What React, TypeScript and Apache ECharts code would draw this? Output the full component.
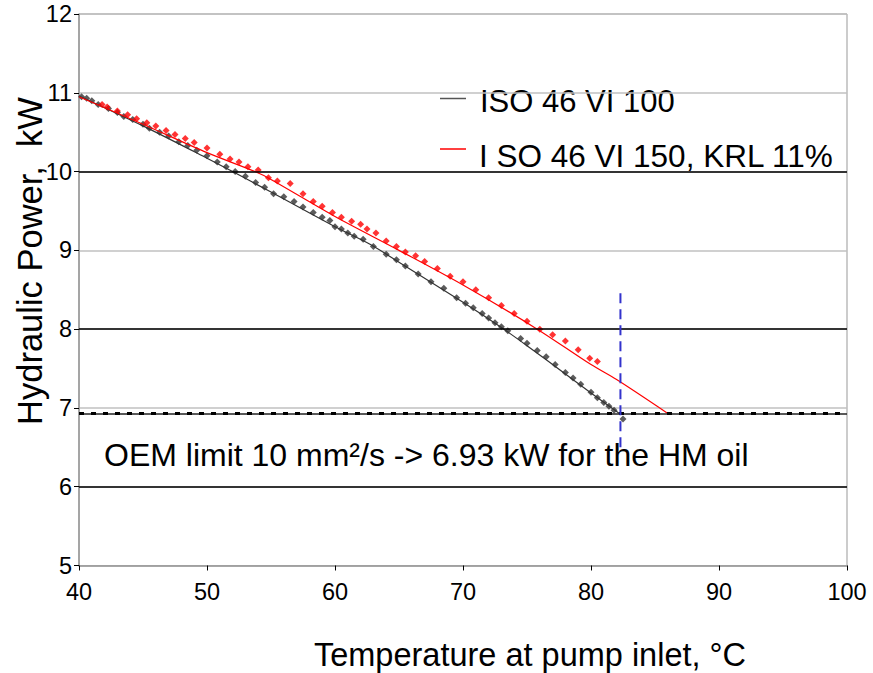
import React, { useEffect, useRef } from "react";
import * as echarts from "echarts";

const xTicks = [40, 50, 60, 70, 80, 90, 100];
const yTicks = [5, 6, 7, 8, 9, 10, 11, 12];

const seriesNames = ["ISO 46 VI 100", "I SO 46 VI 150, KRL 11%"];

const blackPoints: [number, number][] = [
  [40.2, 10.95], [40.6, 10.93], [41.0, 10.9], [41.5, 10.85], [42.3, 10.8], [43.0, 10.75],
  [43.5, 10.7], [44.2, 10.66], [45.0, 10.6], [45.5, 10.55], [46.3, 10.5], [47.0, 10.45],
  [47.8, 10.38], [48.5, 10.33], [49.2, 10.27], [50.0, 10.2], [50.8, 10.12], [51.5, 10.06],
  [52.2, 10.0], [53.0, 9.94], [53.8, 9.86], [54.5, 9.8], [55.2, 9.72], [56.0, 9.68],
  [56.8, 9.62], [57.5, 9.55], [58.3, 9.48], [59.0, 9.42], [59.6, 9.38], [60.0, 9.3],
  [60.5, 9.27], [61.0, 9.22], [61.5, 9.18], [62.2, 9.14], [63.0, 9.05], [64.0, 8.95],
  [64.8, 8.88], [65.5, 8.8], [66.5, 8.7], [67.5, 8.6], [68.5, 8.52], [69.5, 8.4],
  [70.2, 8.33], [70.8, 8.27], [71.5, 8.2], [72.0, 8.14], [72.5, 8.08], [73.0, 8.03],
  [73.5, 7.98], [74.5, 7.88], [75.0, 7.82], [75.8, 7.73], [76.5, 7.65], [77.2, 7.55],
  [78.0, 7.45], [78.6, 7.38], [79.2, 7.3], [80.0, 7.2], [80.5, 7.13], [81.0, 7.07],
  [81.4, 7.02], [81.8, 6.97], [82.5, 6.86],
];

const redPoints: [number, number][] = [
  [41.8, 10.85], [42.2, 10.82], [43.0, 10.77], [43.8, 10.72], [44.5, 10.67], [45.3, 10.62],
  [46.0, 10.58], [46.8, 10.52], [47.5, 10.47], [48.3, 10.42], [49.0, 10.37], [50.0, 10.3],
  [51.0, 10.22], [51.8, 10.16], [52.5, 10.12], [53.2, 10.06], [54.0, 10.02], [54.8, 9.92],
  [55.5, 9.88], [56.5, 9.85], [57.5, 9.72], [58.3, 9.62], [59.0, 9.56], [59.8, 9.48],
  [60.5, 9.42], [61.3, 9.37], [62.0, 9.33], [62.5, 9.27], [63.2, 9.22], [64.0, 9.12],
  [64.8, 9.05], [65.5, 8.98], [66.3, 8.93], [67.0, 8.86], [68.0, 8.77], [69.0, 8.67],
  [70.0, 8.6], [71.0, 8.5], [72.0, 8.4], [73.0, 8.3], [74.0, 8.2], [75.0, 8.1],
  [76.0, 8.0], [77.0, 7.93], [78.0, 7.85], [79.0, 7.74], [79.9, 7.63], [80.5, 7.59],
];

const blackTrend: [number, number][] = [
  [40, 10.96], [45, 10.58], [50, 10.17], [52, 10.0], [55, 9.74], [60, 9.3], [62.7, 9.08],
  [65, 8.85], [70, 8.34], [73, 8.02], [75, 7.79], [78, 7.43], [80, 7.19], [82.3, 6.92],
];

const redTrend: [number, number][] = [
  [40, 10.95], [45, 10.6], [50, 10.24], [53.75, 10.0], [55, 9.9], [60, 9.43], [65, 9.0],
  [70, 8.56], [75.8, 8.0], [80, 7.55], [82, 7.36], [86, 6.93],
];

const oemLimit = 6.93;
const limitTemp = 82.3;
const limitLineY: [number, number] = [6.5, 8.47];
const blackGridValues = [6, 8, 10];

const annotation = "OEM limit 10 mm²/s -> 6.93 kW for the HM oil";
const xTitle = "Temperature at pump inlet, °C";
const yTitle = "Hydraulic Power,  kW";

const FONT = "'Liberation Sans', Arial, sans-serif";

export default function App() {
  const ref = useRef<HTMLDivElement>(null);
  useEffect(() => {
    document.body.style.margin = "0";
    if (!ref.current) return;
    const chart = echarts.init(ref.current, undefined, { renderer: "svg" });
    chart.setOption({
      animation: false,
      textStyle: { fontFamily: FONT },
      grid: {
        left: 79,
        right: 26,
        top: 14,
        bottom: 107.5,
        show: true,
        borderColor: "#999",
        borderWidth: 1,
      },
      xAxis: {
        type: "value",
        min: xTicks[0],
        max: xTicks[xTicks.length - 1],
        interval: 10,
        axisLine: { show: true, lineStyle: { color: "#999", width: 1.5 } },
        axisTick: { show: true, length: 5, inside: false, lineStyle: { color: "#000" } },
        axisLabel: { fontSize: 23.5, color: "#000", margin: 14, fontFamily: FONT },
        splitLine: { show: false },
      },
      yAxis: {
        type: "value",
        min: yTicks[0],
        max: yTicks[yTicks.length - 1],
        interval: 1,
        axisLine: { show: true, lineStyle: { color: "#999", width: 1.5 } },
        axisTick: { show: true, length: 5, lineStyle: { color: "#000" } },
        axisLabel: { fontSize: 23.5, color: "#000", margin: 7, fontFamily: FONT },
        splitLine: { show: true, lineStyle: { color: "#c0c0c0", width: 1.5 } },
      },
      graphic: [
        {
          type: "text",
          x: 30,
          y: 261,
          rotation: Math.PI / 2,
          style: {
            text: yTitle,
            font: `34.5px ${FONT}`,
            fill: "#000",
            textAlign: "center",
            textVerticalAlign: "middle",
          },
        },
        {
          type: "text",
          x: 530,
          y: 655,
          style: {
            text: xTitle,
            font: `32.5px ${FONT}`,
            fill: "#000",
            textAlign: "center",
            textVerticalAlign: "middle",
          },
        },
        {
          type: "line",
          shape: { x1: 440, y1: 98.5, x2: 466, y2: 98.5 },
          style: { stroke: "#555", lineWidth: 1.5 },
        },
        {
          type: "text",
          x: 480,
          y: 101,
          style: {
            text: seriesNames[0],
            font: `31px ${FONT}`,
            fill: "#000",
            textAlign: "left",
            textVerticalAlign: "middle",
          },
        },
        {
          type: "line",
          shape: { x1: 440, y1: 149, x2: 466, y2: 149 },
          style: { stroke: "#ff0000", lineWidth: 1.5 },
        },
        {
          type: "text",
          x: 479,
          y: 156,
          style: {
            text: seriesNames[1],
            font: `31.5px ${FONT}`,
            fill: "#000",
            textAlign: "left",
            textVerticalAlign: "middle",
          },
        },
        {
          type: "text",
          x: 104,
          y: 455,
          style: {
            text: annotation,
            font: `32px ${FONT}`,
            fill: "#000",
            textAlign: "left",
            textVerticalAlign: "middle",
          },
        },
      ],
      series: [
        {
          name: "grid-black",
          type: "line",
          data: [],
          markLine: {
            silent: true,
            symbol: "none",
            label: { show: false },
            lineStyle: { color: "#000", width: 1.5, type: "solid" },
            data: blackGridValues.map((v) => ({ yAxis: v })),
          },
        },
        {
          name: "oem-limit",
          type: "line",
          data: [],
          markLine: {
            silent: true,
            symbol: "none",
            label: { show: false },
            data: [
              { yAxis: oemLimit, lineStyle: { color: "#222", width: 1.5, type: "solid" } },
              { yAxis: oemLimit, lineStyle: { color: "#000", width: 3, type: [5, 7] } },
            ],
          },
        },
        {
          name: seriesNames[0] + " points",
          type: "scatter",
          data: blackPoints,
          symbol: "diamond",
          symbolSize: 7,
          itemStyle: { color: "#333" },
          z: 3,
        },
        {
          name: seriesNames[1] + " points",
          type: "scatter",
          data: redPoints,
          symbol: "diamond",
          symbolSize: 7,
          itemStyle: { color: "#ff0000" },
          z: 3,
        },
        {
          name: seriesNames[0],
          type: "line",
          data: blackTrend,
          smooth: 0.3,
          showSymbol: false,
          lineStyle: { color: "#333", width: 1.2 },
          z: 4,
        },
        {
          name: seriesNames[1],
          type: "line",
          data: redTrend,
          smooth: 0.3,
          showSymbol: false,
          lineStyle: { color: "#ff0000", width: 1.2 },
          z: 4,
        },
        {
          name: "limit temperature",
          type: "line",
          data: [
            [limitTemp, limitLineY[0]],
            [limitTemp, limitLineY[1]],
          ],
          showSymbol: false,
          lineStyle: { color: "#3333cc", width: 2, type: [10, 6] },
          z: 5,
        },
      ],
    });
    return () => chart.dispose();
  }, []);
  return <div ref={ref} style={{ width: 873, height: 673 }} />;
}
